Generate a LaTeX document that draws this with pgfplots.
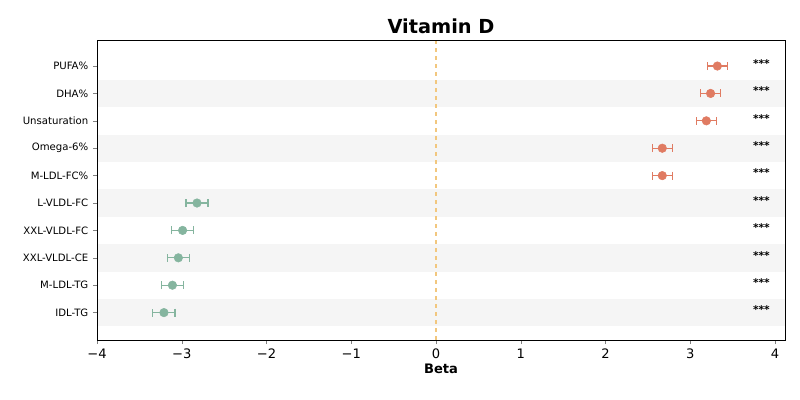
\documentclass[border=0pt]{standalone}
\usepackage{pgfplots}
\pgfplotsset{compat=1.18}
\usepackage{fontspec}
\setmainfont{DejaVu Sans}
\definecolor{pos}{HTML}{E07B62}
\definecolor{neg}{HTML}{85B59F}
\definecolor{zl}{HTML}{F2C77E}
\begin{document}
\begin{tikzpicture}
\begin{axis}[
  scale only axis, width=516pt, height=225pt, at={(0,0)}, anchor=south west,
  xmin=-4, xmax=4.118, ymin=-1, ymax=9.95,
  xtick={-4,-3,-2,-1,0,1,2,3,4},
  xticklabels={−4,−3,−2,−1,0,1,2,3,4},
  ytick={0,...,9},
  yticklabels={IDL-TG,M-LDL-TG,XXL-VLDL-CE,XXL-VLDL-FC,L-VLDL-FC,M-LDL-FC\%,Omega-6\%,Unsaturation,DHA\%,PUFA\%},
  yticklabel style={font=\fontsize{7.6}{9}\selectfont},
  xticklabel style={font=\fontsize{9.8}{12}\selectfont},
  xtick pos=bottom, ytick pos=left,
  xlabel={\bfseries Beta}, xlabel style={font=\fontsize{9.8}{12}\selectfont, yshift=3pt},
  title={\bfseries Vitamin D}, title style={font=\fontsize{14.5}{18}\selectfont, yshift=-5pt},
  tick align=outside, major tick length=3pt,
  axis on top, clip=false,
]
\foreach \r in {0,2,4,6,8}{
  \edef\tmp{\noexpand\fill[black!4] (axis cs:-4,\r-0.5) rectangle (axis cs:4.118,\r+0.5);}\tmp
}
\draw[zl, dashed, line width=1pt] (axis cs:0,-1) -- (axis cs:0,9.95);
\addplot[only marks, mark=*, mark size=3.2pt, color=pos,
  error bars/.cd, x dir=both, x explicit, error mark options={rotate=90, mark size=3pt, line width=0.8pt}, error bar style={line width=0.8pt}]
  coordinates {(3.32,9) +- (0.12,0) (3.24,8) +- (0.12,0) (3.19,7) +- (0.12,0) (2.67,6) +- (0.12,0) (2.67,5) +- (0.12,0)};
\addplot[only marks, mark=*, mark size=3.2pt, color=neg,
  error bars/.cd, x dir=both, x explicit, error mark options={rotate=90, mark size=3pt, line width=0.8pt}, error bar style={line width=0.8pt}]
  coordinates {(-2.82,4) +- (0.13,0) (-2.99,3) +- (0.13,0) (-3.04,2) +- (0.13,0) (-3.11,1) +- (0.13,0) (-3.21,0) +- (0.13,0)};
\foreach \r in {0,...,9}{
  \edef\tmp{\noexpand\node[font=\noexpand\bfseries\noexpand\fontsize{8}{9}\noexpand\selectfont] at (axis cs:3.84,\r+0.1) {***};}\tmp
}
\end{axis}
\useasboundingbox (-72.75pt,-45pt) rectangle (527.25pt,255pt);
\end{tikzpicture}
\end{document}
